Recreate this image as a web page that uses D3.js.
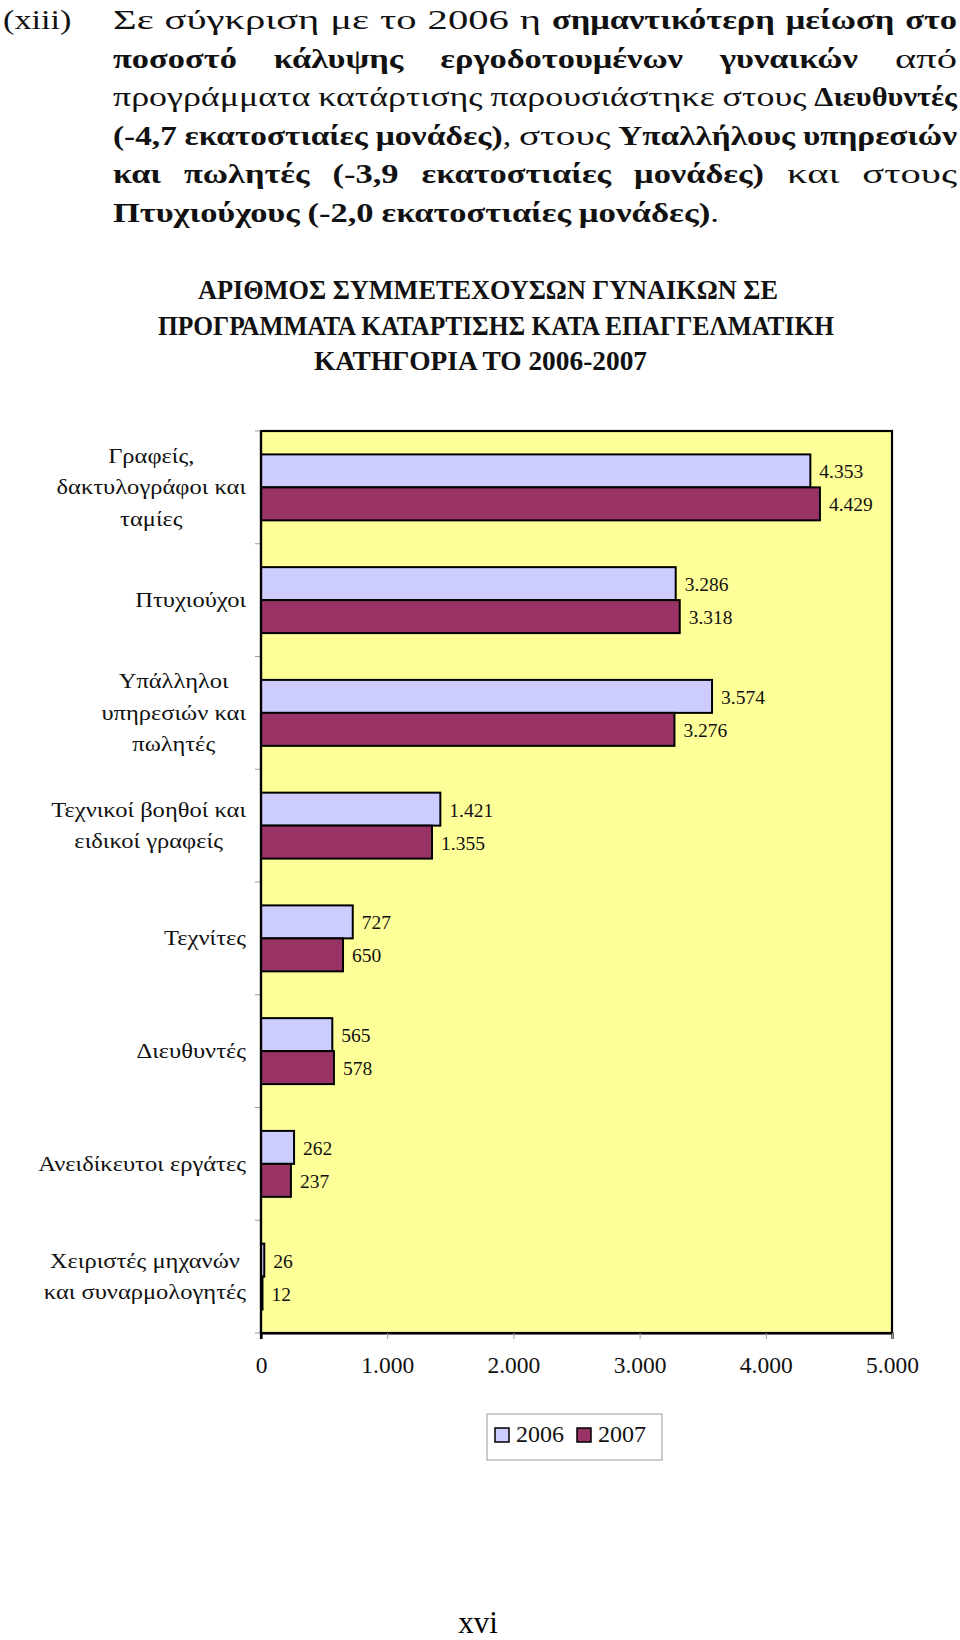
<!DOCTYPE html>
<html>
<head>
<meta charset="utf-8">
<script src="https://cdn.jsdelivr.net/npm/d3@7"></script>
<style>
  html, body { margin: 0; padding: 0; background: #fff; }
  svg { display: block; }
</style>
</head>
<body>
<script>
// ---------- data ----------
const categories = [
  "Γραφείς, δακτυλογράφοι και ταμίες",
  "Πτυχιούχοι",
  "Υπάλληλοι υπηρεσιών και πωλητές",
  "Τεχνικοί βοηθοί και ειδικοί γραφείς",
  "Τεχνίτες",
  "Διευθυντές",
  "Ανειδίκευτοι εργάτες",
  "Χειριστές μηχανών και συναρμολογητές"
];
const categoryLabelLines = [
  ["Γραφείς,", "δακτυλογράφοι και", "ταμίες"],
  ["Πτυχιούχοι"],
  ["Υπάλληλοι", "υπηρεσιών και", "πωλητές"],
  ["Τεχνικοί βοηθοί και", "ειδικοί γραφείς"],
  ["Τεχνίτες"],
  ["Διευθυντές"],
  ["Ανειδίκευτοι εργάτες"],
  ["Χειριστές μηχανών", "και συναρμολογητές"]
];
const seriesNames = ["2006", "2007"];
const values2006 = [4353, 3286, 3574, 1421, 727, 565, 262, 26];
const values2007 = [4429, 3318, 3276, 1355, 650, 578, 237, 12];
const xTickValues = [0, 1000, 2000, 3000, 4000, 5000];

const titleLines = [
  "ΑΡΙΘΜΟΣ ΣΥΜΜΕΤΕΧΟΥΣΩΝ ΓΥΝΑΙΚΩΝ ΣΕ",
  "ΠΡΟΓΡΑΜΜΑΤΑ ΚΑΤΑΡΤΙΣΗΣ ΚΑΤΑ ΕΠΑΓΓΕΛΜΑΤΙΚΗ",
  "ΚΑΤΗΓΟΡΙΑ ΤΟ 2006-2007"
];
const paraNumber = "(xiii)";
const paraLines = [
  [["Σε σύγκριση με το 2006 η ", 0], ["σημαντικότερη μείωση στο", 1]],
  [["ποσοστό κάλυψης εργοδοτουμένων γυναικών", 1], [" από", 0]],
  [["προγράμματα κατάρτισης παρουσιάστηκε στους ", 0], ["Διευθυντές", 1]],
  [["(-4,7 εκατοστιαίες μονάδες)", 1], [", στους ", 0], ["Υπαλλήλους υπηρεσιών", 1]],
  [["και πωλητές (-3,9 εκατοστιαίες μονάδες)", 1], [" και στους", 0]],
  [["Πτυχιούχους (-2,0 εκατοστιαίες μονάδες)", 1], [".", 0]]
];
const pageNumber = "xvi";

// ---------- layout ----------
const W = 960, H = 1640;
const FONT = "'Liberation Serif', 'Times New Roman', serif";
const svg = d3.select("body").append("svg").attr("width", W).attr("height", H)
  .style("font-family", FONT);
svg.append("rect").attr("width", W).attr("height", H).attr("fill", "#fff");

const greek = d3.formatLocale({ decimal: ",", thousands: ".", grouping: [3], currency: ["€", ""] });
const fmt = greek.format(",d");

function stretch(sel, factor) {
  const w = sel.node().getComputedTextLength() * factor;
  sel.attr("textLength", w).attr("lengthAdjust", "spacingAndGlyphs");
  return w;
}

// ---------- paragraph ----------
const paraFont = 28, paraX = 113, paraW = 844, paraTop = 29, paraLH = 38.5;
const normalStretch = 1.45, boldStretch = 1.23;
stretch(svg.append("text").attr("x", 3).attr("y", paraTop).attr("font-size", paraFont)
  .attr("fill", "#111").text(paraNumber), 1.22);

paraLines.forEach((segs, li) => {
  const tokens = [];
  let cur = null;
  segs.forEach(([t, b]) => {
    for (const ch of t) {
      if (ch === " ") { if (cur) { tokens.push(cur); cur = null; } continue; }
      if (!cur) cur = [];
      const last = cur[cur.length - 1];
      if (last && last.b === b) last.t += ch; else cur.push({ t: ch, b });
    }
  });
  if (cur) tokens.push(cur);
  const y = paraTop + li * paraLH;
  const g = svg.append("g");
  let widths = [];
  const nodes = tokens.map(tok => {
    const te = g.append("text").attr("y", y).attr("font-size", paraFont).attr("fill", "#111");
    let w = 0;
    tok.forEach(s => {
      const ts = te.append("tspan").attr("font-weight", s.b ? "bold" : "normal").text(s.t);
      w += ts.node().getComputedTextLength() * (s.b ? boldStretch : normalStretch);
    });
    widths.push(w);
    return te;
  });
  const minGap = paraFont * 0.28;
  const total = d3.sum(widths);
  const avail = paraW - minGap * (tokens.length - 1);
  if (total > avail) widths = widths.map(w => w * avail / total);
  nodes.forEach((n, i) => n.attr("textLength", widths[i]).attr("lengthAdjust", "spacingAndGlyphs"));
  const totalW = d3.sum(widths);
  const last = li === paraLines.length - 1;
  const gap = last ? minGap : (paraW - totalW) / (tokens.length - 1);
  let x = paraX;
  nodes.forEach((n, i) => { n.attr("x", x); x += widths[i] + gap; });
});

// ---------- title ----------
const titleSpec = [
  { x: 198, y: 299, w: 580 },
  { x: 158, y: 335, w: 676 },
  { x: 314, y: 370, w: 333 }
];
titleLines.forEach((t, i) => {
  svg.append("text").attr("x", titleSpec[i].x).attr("y", titleSpec[i].y)
    .attr("font-size", 27).attr("font-weight", "bold").attr("fill", "#111")
    .attr("textLength", titleSpec[i].w).attr("lengthAdjust", "spacingAndGlyphs")
    .text(t);
});

// ---------- chart ----------
const plot = { left: 261, right: 892, top: 431, bottom: 1333 };
const x = d3.scaleLinear().domain([0, 5000]).range([plot.left, plot.right]);
const yOuter = d3.scaleBand().domain(categories).range([plot.top, plot.bottom]).padding(0);
const step = yOuter.step();
const outerPad = 0.2075;
const yInner = d3.scaleBand().domain(seriesNames).range([step * outerPad, step * (1 - outerPad)]).padding(0);
const colors = { "2006": "#CCCCFF", "2007": "#993366" };

svg.append("rect").attr("x", plot.left).attr("y", plot.top)
  .attr("width", plot.right - plot.left).attr("height", plot.bottom - plot.top)
  .attr("fill", "#FFFF99");

const rows = categories.map((c, i) => ({ c, i, vals: [values2006[i], values2007[i]] }));
const groups = svg.append("g").selectAll("g").data(rows).join("g")
  .attr("transform", d => `translate(0,${yOuter(d.c)})`);

groups.selectAll("rect").data(d => d.vals.map((v, k) => ({ s: seriesNames[k], v })))
  .join("rect")
  .attr("x", x(0))
  .attr("y", d => yInner(d.s))
  .attr("width", d => x(d.v) - x(0))
  .attr("height", yInner.bandwidth())
  .attr("fill", d => colors[d.s])
  .attr("stroke", "#000").attr("stroke-width", 2);

groups.selectAll("text.val").data(d => d.vals.map((v, k) => ({ s: seriesNames[k], v })))
  .join("text").attr("class", "val")
  .attr("x", d => x(d.v) + 9)
  .attr("y", d => yInner(d.s) + yInner.bandwidth() / 2 + 3)
  .attr("font-size", 19.5)
  .attr("dominant-baseline", "middle")
  .attr("fill", "#111")
  .text(d => fmt(d.v));

// plot border
svg.append("rect").attr("x", plot.left).attr("y", plot.top)
  .attr("width", plot.right - plot.left).attr("height", plot.bottom - plot.top)
  .attr("fill", "none").attr("stroke", "#000").attr("stroke-width", 2.2);

// x axis
const xAxis = d3.axisBottom(x).tickValues(xTickValues).tickFormat(fmt).tickSize(6).tickPadding(10);
const xg = svg.append("g").attr("transform", `translate(0,${plot.bottom})`).call(xAxis);
xg.select(".domain").attr("stroke", "#000").attr("stroke-width", 2.2);
xg.selectAll(".tick line").attr("stroke", "#999").attr("stroke-width", 1);
xg.selectAll(".tick text").attr("font-size", 23.5).attr("font-family", FONT).attr("fill", "#111")
  .attr("y", 40).attr("dy", 0);

// y axis (category boundaries as ticks)
const boundaries = categories.map(c => yOuter(c)).concat([plot.bottom]);
svg.append("g").selectAll("line").data(boundaries).join("line")
  .attr("x1", plot.left - 6).attr("x2", plot.left)
  .attr("y1", d => d).attr("y2", d => d)
  .attr("stroke", "#999").attr("stroke-width", 1);
svg.append("line").attr("x1", plot.left).attr("x2", plot.left)
  .attr("y1", plot.top).attr("y2", plot.bottom + 6)
  .attr("stroke", "#000").attr("stroke-width", 2.2);

// category labels
const labelLH = 31.5, labelRight = 246;
categoryLabelLines.forEach((lines, i) => {
  const cy = yOuter(categories[i]) + step / 2;
  const tmp = lines.map(l => svg.append("text").attr("font-size", 21.5).attr("fill", "#111").text(l));
  const ws = tmp.map(t => stretch(t, 1.14));
  const maxW = d3.max(ws);
  const cx = labelRight - maxW / 2;
  tmp.forEach((t, j) => {
    t.attr("x", cx - ws[j] / 2)
      .attr("y", cy + (j - (lines.length - 1) / 2) * labelLH + 7);
  });
});

// legend
const leg = svg.append("g");
leg.append("rect").attr("x", 487).attr("y", 1414).attr("width", 175).attr("height", 46)
  .attr("fill", "#fff").attr("stroke", "#999").attr("stroke-width", 1);
const legX = [495, 577];
seriesNames.forEach((s, k) => {
  leg.append("rect").attr("x", legX[k]).attr("y", 1428).attr("width", 14).attr("height", 14)
    .attr("fill", colors[s]).attr("stroke", "#000").attr("stroke-width", 1.5);
  leg.append("text").attr("x", legX[k] + 21).attr("y", 1442).attr("font-size", 24).attr("fill", "#111").text(s);
});

// page number
svg.append("text").attr("x", 478).attr("y", 1633).attr("text-anchor", "middle")
  .attr("font-size", 31).text(pageNumber);
</script>
</body>
</html>
